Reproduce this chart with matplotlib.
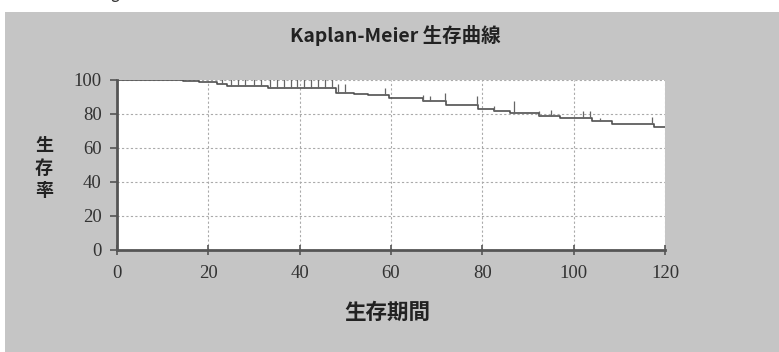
import numpy as np
import matplotlib
matplotlib.use("Agg")
import matplotlib.pyplot as plt
from matplotlib.patches import Rectangle

plt.rcParams['font.family'] = ['Noto Sans CJK JP', 'DejaVu Sans']

# step function of the survival curve (time where it drops, value after drop)
step_times = [0, 14.5, 18, 22, 24, 33, 48, 52, 55, 59.5, 67, 72, 79, 82.5, 86,
              92.5, 97, 104, 108.5, 117.5, 120]
survival = [100, 99.5, 98.8, 97.5, 96.5, 95.5, 92.5, 92.0, 91.4, 89.2, 87.4,
            85.4, 83.2, 82.0, 80.5, 78.6, 77.5, 75.6, 74.4, 72.6, 72.6]

# censored observations
censor_times = [23, 25, 26.5, 28, 30, 31.5, 33.5, 35, 36.5, 38, 39.5, 41,
                42.5, 44, 45.5, 47, 48.5, 50, 58.7, 67, 68.5, 71.8, 78.8,
                82.6, 87, 92.5, 95, 102, 103.5, 105.7, 117.2]
censor_len = [4, 4, 4, 4, 5, 5, 5, 5, 5, 5, 5, 5, 5, 5, 5, 5, 5, 5, 4, 4, 3,
              5, 5, 3, 7, 3, 4, 4, 4, 2, 4]

xticks = [0, 20, 40, 60, 80, 100, 120]
yticks = [0, 20, 40, 60, 80, 100]

fig = plt.figure(figsize=(7.79, 3.52), dpi=100, facecolor='white')
fig.patches.append(Rectangle((5 / 779, 0), 1, 1 - 12 / 352,
                             transform=fig.transFigure, facecolor='#c5c5c5',
                             edgecolor='none', zorder=-10))
# bottom of a letter cut off by the top edge of the picture
fig.text(0.147, 1.0 + 2 / 352, 'g', fontsize=11, color='#333333', ha='center',
         va='baseline')

ax = fig.add_axes([117 / 779, 1 - 250 / 352, (665 - 117) / 779, 170 / 352])
ax.set_facecolor('white')

ax.step(step_times, survival, where='post', color='#505050', lw=1.2)
cy = [survival[np.searchsorted(step_times, t, side='right') - 1] for t in censor_times]
ax.vlines(censor_times, cy, np.array(cy) + np.array(censor_len),
          color='#666666', lw=0.9)

ax.set_xlim(0, 120)
ax.set_ylim(0, 100)
ax.set_xticks(xticks)
ax.set_yticks(yticks)

for s in ['top', 'right']:
    ax.spines[s].set_visible(False)
for s in ['left', 'bottom']:
    ax.spines[s].set_color('#555555')
    ax.spines[s].set_linewidth(2)

ax.grid(True, color='#aaaaaa', linestyle=(0, (2, 2)), linewidth=0.8)
ax.tick_params(axis='x', direction='inout', length=7, width=1.2, color='#555555',
               pad=7, labelsize=13.5, labelcolor='#333333')
ax.tick_params(axis='y', direction='out', length=5, width=1.2, color='#555555',
               pad=6, labelsize=13.5, labelcolor='#333333')
for lab in ax.get_xticklabels() + ax.get_yticklabels():
    lab.set_fontfamily(['Liberation Serif', 'DejaVu Serif'])

fig.text(395 / 779, 1 - 36 / 352, 'Kaplan-Meier 生存曲線', fontsize=14,
         fontweight='bold', color='#222222', ha='center', va='center')
fig.text(44 / 779, 1 - 168 / 352, '生\n存\n率', fontsize=13, fontweight='bold',
         color='#222222', ha='center', va='center', linespacing=1.2)
fig.text(387 / 779, 1 - 312 / 352, '生存期間', fontsize=15.5, fontweight='bold',
         color='#222222', ha='center', va='center')

fig.savefig('out.png', dpi=100, facecolor=fig.get_facecolor())
